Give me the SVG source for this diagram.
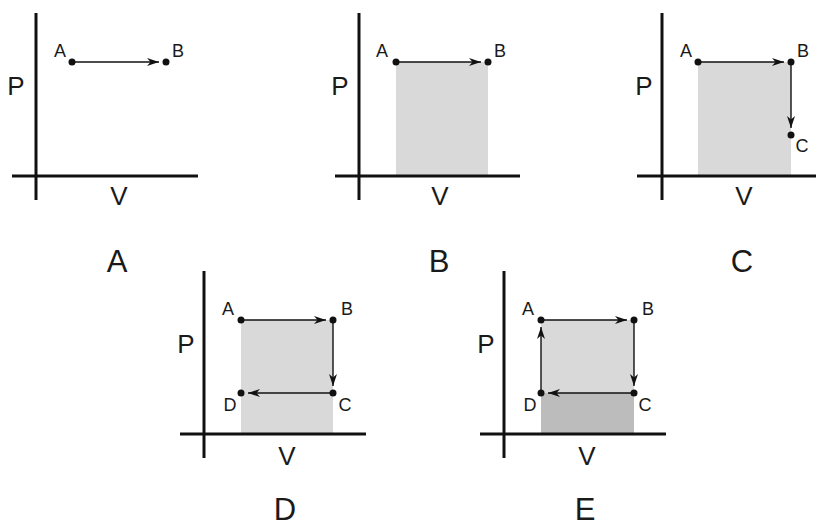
<svg xmlns="http://www.w3.org/2000/svg" width="816" height="527" viewBox="0 0 816 527">
<style>
.ax{stroke:#111;stroke-width:3;fill:none}
.ln{stroke:#111;stroke-width:1.4;fill:none;marker-end:url(#ah)}
.dot{fill:#111}
.sh{fill:#d9d9d9}
.sh2{fill:#bcbcbc}
text{font-family:"Liberation Sans",Arial,sans-serif;fill:#1a1a1a;text-anchor:middle}
.pt{font-size:18px}
.axl{font-size:26px}
.pl{font-size:31px}
</style>
<defs>
<marker id="ah" markerUnits="userSpaceOnUse" markerWidth="14" markerHeight="10" refX="12" refY="4" orient="auto">
<path d="M0,0 L12,4 L0,8 L3.5,4 z" fill="#111"/>
</marker>
</defs>
<rect width="816" height="527" fill="#fff"/>

<g id="panelA">
<line class="ax" x1="36" y1="13" x2="36" y2="200"/>
<line class="ax" x1="12" y1="176" x2="198" y2="176"/>
<text class="axl" x="16" y="95">P</text>
<text class="axl" x="119" y="205">V</text>
<g id="connA"><line class="ln" x1="72" y1="62" x2="159" y2="62"/></g>
<g id="A-A"><circle class="dot" cx="72" cy="62" r="3.5"/><text class="pt" x="60" y="57">A</text></g>
<g id="A-B"><circle class="dot" cx="166" cy="62" r="3.5"/><text class="pt" x="178" y="57">B</text></g>
<text class="pl" x="117" y="272">A</text>
</g>

<g id="panelB">
<rect class="sh" x="396" y="62" width="92" height="114"/>
<line class="ax" x1="359" y1="13" x2="359" y2="200"/>
<line class="ax" x1="335" y1="176" x2="520" y2="176"/>
<text class="axl" x="340" y="95">P</text>
<text class="axl" x="440" y="205">V</text>
<g id="connB"><line class="ln" x1="396" y1="62" x2="481" y2="62"/></g>
<g id="B-A"><circle class="dot" cx="396" cy="62" r="3.5"/><text class="pt" x="382" y="57">A</text></g>
<g id="B-B"><circle class="dot" cx="488" cy="62" r="3.5"/><text class="pt" x="500" y="57">B</text></g>
<text class="pl" x="439" y="272">B</text>
</g>

<g id="panelC">
<rect class="sh" x="698" y="62" width="93" height="114"/>
<line class="ax" x1="662" y1="13" x2="662" y2="200"/>
<line class="ax" x1="637" y1="176" x2="816" y2="176"/>
<text class="axl" x="644" y="95">P</text>
<text class="axl" x="744" y="205">V</text>
<g id="connC">
<line class="ln" x1="698" y1="62" x2="784" y2="62"/>
<line class="ln" x1="791" y1="62" x2="791" y2="128"/>
</g>
<g id="C-A"><circle class="dot" cx="698" cy="62" r="3.5"/><text class="pt" x="686" y="57">A</text></g>
<g id="C-B"><circle class="dot" cx="791" cy="62" r="3.5"/><text class="pt" x="803" y="57">B</text></g>
<g id="C-C"><circle class="dot" cx="791" cy="135" r="3.5"/><text class="pt" x="802" y="152">C</text></g>
<text class="pl" x="742" y="272">C</text>
</g>

<g id="panelD">
<rect class="sh" x="241" y="320" width="92" height="114"/>
<line class="ax" x1="204" y1="271" x2="204" y2="458"/>
<line class="ax" x1="180" y1="434" x2="366" y2="434"/>
<text class="axl" x="186" y="353">P</text>
<text class="axl" x="287" y="465">V</text>
<g id="connD">
<line class="ln" x1="241" y1="320" x2="326" y2="320"/>
<line class="ln" x1="333" y1="320" x2="333" y2="386"/>
<line class="ln" x1="333" y1="393" x2="248" y2="393"/>
</g>
<g id="D-A"><circle class="dot" cx="241" cy="320" r="3.5"/><text class="pt" x="228" y="315">A</text></g>
<g id="D-B"><circle class="dot" cx="333" cy="320" r="3.5"/><text class="pt" x="347" y="315">B</text></g>
<g id="D-C"><circle class="dot" cx="333" cy="393" r="3.5"/><text class="pt" x="345" y="411">C</text></g>
<g id="D-D"><circle class="dot" cx="241" cy="393" r="3.5"/><text class="pt" x="230" y="411">D</text></g>
<text class="pl" x="285" y="520">D</text>
</g>

<g id="panelE">
<rect class="sh" x="541" y="320" width="93" height="73"/>
<rect class="sh2" x="541" y="393" width="93" height="41"/>
<line class="ax" x1="504" y1="271" x2="504" y2="458"/>
<line class="ax" x1="480" y1="434" x2="666" y2="434"/>
<text class="axl" x="486" y="353">P</text>
<text class="axl" x="587" y="465">V</text>
<g id="connE">
<line class="ln" x1="541" y1="320" x2="627" y2="320"/>
<line class="ln" x1="634" y1="320" x2="634" y2="386"/>
<line class="ln" x1="634" y1="393" x2="548" y2="393"/>
<line class="ln" x1="541" y1="393" x2="541" y2="327"/>
</g>
<g id="E-A"><circle class="dot" cx="541" cy="320" r="3.5"/><text class="pt" x="528" y="315">A</text></g>
<g id="E-B"><circle class="dot" cx="634" cy="320" r="3.5"/><text class="pt" x="648" y="315">B</text></g>
<g id="E-C"><circle class="dot" cx="634" cy="393" r="3.5"/><text class="pt" x="645" y="411">C</text></g>
<g id="E-D"><circle class="dot" cx="541" cy="393" r="3.5"/><text class="pt" x="530" y="411">D</text></g>
<text class="pl" x="585" y="520">E</text>
</g>
</svg>
